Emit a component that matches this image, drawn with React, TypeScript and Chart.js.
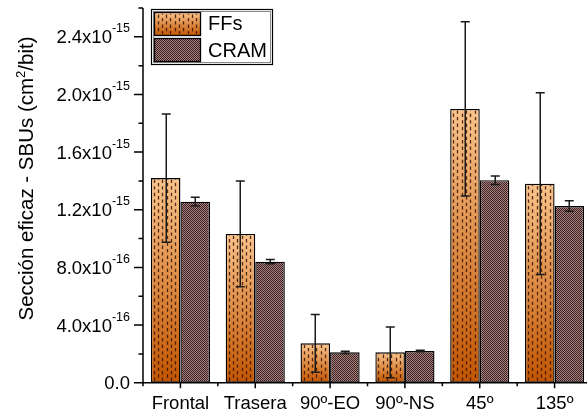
import React, { useEffect, useRef } from "react";
import { Chart, registerables } from "chart.js";

Chart.register(...registerables);

// ---------- data ----------
const CATEGORIES = ["Frontal", "Trasera", "90º-EO", "90º-NS", "45º", "135º"];
const SERIES_NAMES = ["FFs", "CRAM"];
const FFS_VALUES = [1.42e-15, 1.032e-15, 0.273e-15, 0.211e-15, 1.9e-15, 1.381e-15];
const FFS_ERRORS = [0.445e-15, 0.367e-15, 0.2e-15, 0.176e-15, 0.605e-15, 0.631e-15];
const CRAM_VALUES = [1.256e-15, 0.84e-15, 0.211e-15, 0.22e-15, 1.405e-15, 1.226e-15];
const CRAM_ERRORS = [0.03e-15, 0.015e-15, 0.008e-15, 0.006e-15, 0.03e-15, 0.037e-15];

const Y_MIN = 0;
const Y_MAX = 2.6e-15;
const Y_TICK_VALUES = [0, 0.4e-15, 0.8e-15, 1.2e-15, 1.6e-15, 2.0e-15, 2.4e-15];
const Y_TICK_MANTISSAS = ["0.0", "4.0x10", "8.0x10", "1.2x10", "1.6x10", "2.0x10", "2.4x10"];
const Y_TICK_EXPONENTS = ["", "-16", "-16", "-15", "-15", "-15", "-15"];
const Y_MINOR_TICK_VALUES = [0.2e-15, 0.6e-15, 1.0e-15, 1.4e-15, 1.8e-15, 2.2e-15, 2.6e-15];
const Y_TITLE_MAIN = "Sección eficaz - SBUs (cm";
const Y_TITLE_SUP = "2";
const Y_TITLE_END = "/bit)";

const FONT = '"Liberation Sans", Arial, Helvetica, sans-serif';
const FFS_TOP = "#FAC48C";
const FFS_BOTTOM = "#C25500";
const CRAM_DARK = "#3d2222";
const CRAM_LIGHT = "#a98080";

function makeCramPattern(ctx: CanvasRenderingContext2D): CanvasPattern | string {
  const pc = document.createElement("canvas");
  pc.width = 2;
  pc.height = 2;
  const p = pc.getContext("2d");
  if (!p) return "#6b4a4a";
  p.fillStyle = CRAM_DARK;
  p.fillRect(0, 0, 2, 2);
  p.fillStyle = CRAM_LIGHT;
  p.fillRect(1, 0, 1, 1);
  p.fillRect(0, 1, 1, 1);
  return ctx.createPattern(pc, "repeat") || "#6b4a4a";
}

function drawDashes(c: CanvasRenderingContext2D, left: number, top: number, w: number, h: number, originY: number) {
  c.save();
  c.beginPath();
  c.rect(left + 1.3, top + 1.3, w - 2.6, h - 2.6);
  c.clip();
  c.strokeStyle = "rgba(55,18,0,0.85)";
  c.lineWidth = 1.3;
  const period = 6.6;
  const dash = 3.4;
  let k = 0;
  for (let xx = left + 3; xx < left + w - 1; xx += 4.3, k++) {
    c.setLineDash([dash, period - dash]);
    c.lineDashOffset = k % 2 ? period / 2 : 0;
    c.beginPath();
    const px = Math.round(xx) + 0.5;
    c.moveTo(px, originY);
    c.lineTo(px, top + h);
    c.stroke();
  }
  c.restore();
}

function ffsGradient(c: CanvasRenderingContext2D, top: number, bottom: number) {
  const g = c.createLinearGradient(0, top, 0, bottom);
  g.addColorStop(0, FFS_TOP);
  g.addColorStop(1, FFS_BOTTOM);
  return g;
}

const overlayPlugin = {
  id: "overlay",
  afterDatasetsDraw(chart: any) {
    const c: CanvasRenderingContext2D = chart.ctx;
    const ys = chart.scales.y;
    const area = chart.chartArea;
    const metaF = chart.getDatasetMeta(0);
    const metaC = chart.getDatasetMeta(1);
    metaF.data.forEach((bar: any) => {
      const left = bar.x - bar.width / 2;
      drawDashes(c, left, bar.y, bar.width, bar.base - bar.y, area.top);
    });
    const sets: [any, number[], number[]][] = [
      [metaF, FFS_VALUES, FFS_ERRORS],
      [metaC, CRAM_VALUES, CRAM_ERRORS],
    ];
    c.save();
    c.strokeStyle = "#1a1a1a";
    c.lineWidth = 1.5;
    sets.forEach(([meta, vals, errs]) => {
      meta.data.forEach((bar: any, i: number) => {
        const x = Math.round(bar.x) + 0.25;
        const yHi = ys.getPixelForValue(vals[i] + errs[i]);
        const yLo = ys.getPixelForValue(vals[i] - errs[i]);
        c.beginPath();
        c.moveTo(x, yHi);
        c.lineTo(x, yLo);
        c.moveTo(x - 4.5, yHi);
        c.lineTo(x + 4.5, yHi);
        c.moveTo(x - 4.5, yLo);
        c.lineTo(x + 4.5, yLo);
        c.stroke();
      });
    });
    c.restore();
  },
  afterDraw(chart: any) {
    const c: CanvasRenderingContext2D = chart.ctx;
    const ys = chart.scales.y;
    const xs = chart.scales.x;
    const area = chart.chartArea;
    c.save();
    c.strokeStyle = "#000";
    c.fillStyle = "#000";
    c.lineWidth = 1.5;
    // axis lines
    c.beginPath();
    c.moveTo(area.left, area.top);
    c.lineTo(area.left, area.bottom);
    c.lineTo(area.right, area.bottom);
    c.stroke();
    // y ticks
    c.beginPath();
    Y_TICK_VALUES.forEach((v) => {
      const py = ys.getPixelForValue(v);
      c.moveTo(area.left - 9, py);
      c.lineTo(area.left, py);
    });
    Y_MINOR_TICK_VALUES.forEach((v) => {
      const py = ys.getPixelForValue(v);
      c.moveTo(area.left - 4.5, py);
      c.lineTo(area.left, py);
    });
    // x ticks
    const n = CATEGORIES.length;
    for (let i = 0; i < n; i++) {
      const px = xs.getPixelForValue(i);
      c.moveTo(px, area.bottom);
      c.lineTo(px, area.bottom + 5.5);
    }
    for (let i = 0; i <= n; i++) {
      const px = xs.getPixelForValue(i - 0.5);
      c.moveTo(px, area.bottom);
      c.lineTo(px, area.bottom + 3.5);
    }
    c.stroke();

    // y tick labels
    const labelRight = area.left - 13;
    Y_TICK_VALUES.forEach((v, i) => {
      const py = ys.getPixelForValue(v);
      const exp = Y_TICK_EXPONENTS[i];
      c.font = `12.5px ${FONT}`;
      const supW = exp ? c.measureText(exp).width : 0;
      if (exp) {
        c.textAlign = "right";
        c.textBaseline = "alphabetic";
        c.fillText(exp, labelRight, py - 4.5);
      }
      c.font = `18.5px ${FONT}`;
      c.textAlign = "right";
      c.textBaseline = "alphabetic";
      c.fillText(Y_TICK_MANTISSAS[i], labelRight - supW, py + 6.5);
    });

    // x tick labels
    c.font = `18.5px ${FONT}`;
    c.textAlign = "center";
    c.textBaseline = "alphabetic";
    CATEGORIES.forEach((lab, i) => {
      c.fillText(lab, xs.getPixelForValue(i), area.bottom + 26.5);
    });

    // y title
    c.save();
    c.translate(33, 178.5);
    c.rotate(-Math.PI / 2);
    c.font = `20.5px ${FONT}`;
    const w1 = c.measureText(Y_TITLE_MAIN).width;
    const w3 = c.measureText(Y_TITLE_END).width;
    c.font = `13px ${FONT}`;
    const w2 = c.measureText(Y_TITLE_SUP).width;
    const total = w1 + w2 + w3;
    c.textAlign = "left";
    c.textBaseline = "alphabetic";
    c.font = `20.5px ${FONT}`;
    c.fillText(Y_TITLE_MAIN, -total / 2, 0);
    c.font = `13px ${FONT}`;
    c.fillText(Y_TITLE_SUP, -total / 2 + w1, -8);
    c.font = `20.5px ${FONT}`;
    c.fillText(Y_TITLE_END, -total / 2 + w1 + w2, 0);
    c.restore();

    // legend
    const lx = area.left + 8;
    const ly = area.top + 1;
    const lw = 121;
    const lh = 55;
    c.fillStyle = "#fff";
    c.fillRect(lx, ly, lw, lh);
    c.lineWidth = 1.2;
    c.strokeStyle = "#000";
    c.strokeRect(lx + 0.5, ly + 0.5, lw, lh);
    c.lineWidth = 1;
    c.strokeStyle = "#8a8a8a";
    c.strokeRect(lx + 2.5, ly + 2.5, lw - 4, lh - 4);
    const sx = lx + 3.5;
    const sw = 46;
    const s1y = ly + 3.5;
    const s2y = ly + 29.5;
    const sh = 23;
    c.fillStyle = ffsGradient(c, s1y, s1y + sh);
    c.fillRect(sx, s1y, sw, sh);
    drawDashes(c, sx, s1y, sw, sh, area.top);
    c.lineWidth = 1.3;
    c.strokeStyle = "#000";
    c.strokeRect(sx, s1y, sw, sh);
    c.fillStyle = chart._cramPattern || "#6b4a4a";
    c.fillRect(sx, s2y, sw, sh);
    c.strokeRect(sx, s2y, sw, sh);
    c.fillStyle = "#000";
    c.font = `20px ${FONT}`;
    c.textAlign = "left";
    c.textBaseline = "alphabetic";
    c.fillText(SERIES_NAMES[0], lx + 57, area.top + 22);
    c.fillText(SERIES_NAMES[1], lx + 57, area.top + 48.7);
    c.restore();
  },
};

export default function App() {
  const ref = useRef<HTMLCanvasElement>(null);
  useEffect(() => {
    const canvas = ref.current;
    if (!canvas) return;
    const ctx2d = canvas.getContext("2d");
    if (!ctx2d) return;
    const cramPattern = makeCramPattern(ctx2d);
    const chart = new Chart(canvas, {
      type: "bar",
      data: {
        labels: CATEGORIES,
        datasets: [
          {
            label: SERIES_NAMES[0],
            data: FFS_VALUES,
            backgroundColor: (ctx: any) => {
              const ch = ctx.chart;
              const ys = ch.scales && ch.scales.y;
              if (!ys || ctx.type !== "data") return "#E08A40";
              const top = ys.getPixelForValue(ctx.raw as number);
              const base = ys.getPixelForValue(0);
              if (!isFinite(top) || !isFinite(base) || top === base) return "#E08A40";
              return ffsGradient(ch.ctx, top, base);
            },
            borderColor: "#000",
            borderWidth: 1.4,
            borderSkipped: false,
          },
          {
            label: SERIES_NAMES[1],
            data: CRAM_VALUES,
            backgroundColor: cramPattern as any,
            borderColor: "#000",
            borderWidth: 1.4,
            borderSkipped: false,
          },
        ],
      },
      options: {
        responsive: false,
        animation: false,
        devicePixelRatio: 1,
        layout: { padding: { left: 143, top: 8, right: 0, bottom: 31.3 } },
        datasets: { bar: { categoryPercentage: 0.79, barPercentage: 1 } } as any,
        plugins: {
          legend: { display: false },
          tooltip: { enabled: false },
          title: { display: false },
        },
        scales: {
          x: { display: false, offset: true },
          y: { display: false, min: Y_MIN, max: Y_MAX },
        },
      },
      plugins: [overlayPlugin],
    });
    (chart as any)._cramPattern = cramPattern;
    chart.draw();
    return () => chart.destroy();
  }, []);
  return (
    <div
      style={{
        position: "fixed",
        left: 0,
        top: 0,
        width: 587,
        height: 414,
        overflow: "hidden",
        background: "#fff",
      }}
    >
      <canvas ref={ref} width={592} height={414} style={{ display: "block" }} />
    </div>
  );
}
